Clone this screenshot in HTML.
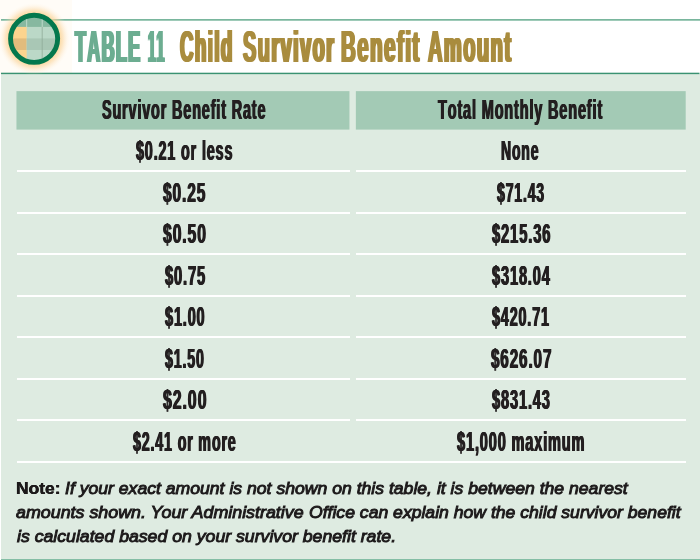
<!DOCTYPE html>
<html lang="en">
<head>
<meta charset="utf-8">
<title>Table 11 – Child Survivor Benefit Amount</title>
<style>
html,body{margin:0;padding:0}
body{width:700px;height:560px;position:relative;overflow:hidden;background:#fff;font-family:"Liberation Sans",sans-serif}
.abs{position:absolute}
.t{position:absolute;white-space:nowrap;font-weight:bold;line-height:1.117;transform-origin:0 0;font-family:"Liberation Sans",sans-serif}
.i{font-style:italic}
.cream{left:0;top:0;width:72px;height:74px;background:#FFFCF7}
.panel{left:1px;top:74px;width:698.5px;height:485px;background:#DEEBE1}
.endline{left:1px;top:559px;width:699px;height:1px;background:#84BEA5}
.sep{height:2px;background:#fff}
</style>
</head>
<body>
<div class="abs cream"></div>
<svg class="abs" style="left:0;top:0" width="700" height="80" viewBox="0 0 700 80"><rect x="1" y="19.1" width="699" height="1.55" fill="#6BAE93"/></svg>
<div class="abs panel"></div>
<svg class="abs" style="left:0;top:0" width="700" height="80" viewBox="0 0 700 80"><rect x="1" y="72.7" width="698.5" height="1.45" fill="#3A9272"/></svg>
<div class="abs endline"></div>
<svg class="abs" style="left:0;top:80px" width="700" height="60" viewBox="0 80 700 60"><rect x="16.45" y="91.15" width="333" height="38.45" fill="#A3CAB5"/><rect x="355.85" y="91.15" width="329.85" height="38.45" fill="#A3CAB5"/></svg>
<div class="abs sep" style="left:16.5px;width:333.1px;top:170px"></div><div class="abs sep" style="left:355.8px;width:329.9px;top:170px"></div>
<div class="abs sep" style="left:16.5px;width:333.1px;top:211.6px"></div><div class="abs sep" style="left:355.8px;width:329.9px;top:211.6px"></div>
<div class="abs sep" style="left:16.5px;width:333.1px;top:253.1px"></div><div class="abs sep" style="left:355.8px;width:329.9px;top:253.1px"></div>
<div class="abs sep" style="left:16.5px;width:333.1px;top:294.6px"></div><div class="abs sep" style="left:355.8px;width:329.9px;top:294.6px"></div>
<div class="abs sep" style="left:16.5px;width:333.1px;top:336.1px"></div><div class="abs sep" style="left:355.8px;width:329.9px;top:336.1px"></div>
<div class="abs sep" style="left:16.5px;width:333.1px;top:377.6px"></div><div class="abs sep" style="left:355.8px;width:329.9px;top:377.6px"></div>
<div class="abs sep" style="left:16.5px;width:333.1px;top:419.1px"></div><div class="abs sep" style="left:355.8px;width:329.9px;top:419.1px"></div>
<div class="abs sep" style="left:16.5px;width:669.2px;top:460.6px"></div>
<svg class="abs" style="left:0;top:0" width="80" height="80" viewBox="0 0 80 80">
<defs>
<radialGradient id="glow" cx="34.1" cy="38.8" r="36" gradientUnits="userSpaceOnUse">
<stop offset="0.70" stop-color="#FBD391" stop-opacity="0.85"/>
<stop offset="0.80" stop-color="#FBD59B" stop-opacity="0.55"/>
<stop offset="0.92" stop-color="#FDE3BD" stop-opacity="0.18"/>
<stop offset="1" stop-color="#FFF3E0" stop-opacity="0"/>
</radialGradient>
<clipPath id="inner"><circle cx="34.1" cy="38.8" r="22"/></clipPath>
</defs>
<circle cx="34.1" cy="38.8" r="36" fill="url(#glow)"/>
<g clip-path="url(#inner)">
<rect x="10" y="14" width="50" height="13" fill="#87B8A0"/>
<rect x="10" y="26.9" width="16.7" height="36" fill="#FBD48E"/>
<rect x="10" y="38.4" width="16.7" height="11.6" fill="#E1BC7C"/>
<rect x="26.7" y="26.9" width="34" height="36" fill="#BBD8C7"/>
<rect x="26.7" y="38.4" width="34" height="11.6" fill="#A9C7B5"/>
<rect x="26.4" y="14" width="0.7" height="13" fill="#D5E8DC"/>
<rect x="41.8" y="14" width="0.7" height="13" fill="#D5E8DC"/>
<rect x="41.75" y="26.9" width="0.8" height="36" fill="#8FAA99"/>
</g>
<circle cx="34.1" cy="38.8" r="23.55" fill="none" stroke="#04784D" stroke-width="4.9"/>
</svg>
<span class="t" style="left:74.52px;top:21.90px;font-size:44.20px;color:#6CAD91;transform:scaleX(0.4062);text-shadow:2.71px 0 0 currentColor,-2.71px 0 0 currentColor;letter-spacing:3.20px;font-kerning:none;">TABLE</span>
<span class="t" style="left:147.68px;top:21.90px;font-size:44.20px;color:#6CAD91;transform:scaleX(0.3089);text-shadow:3.56px 0 0 currentColor,-3.56px 0 0 currentColor;letter-spacing:3.20px;font-kerning:none;">11</span>
<span class="t" style="left:180.15px;top:21.90px;font-size:44.20px;color:#A98C3E;transform:scaleX(0.4250);text-shadow:2.59px 0 0 currentColor,-2.59px 0 0 currentColor;letter-spacing:3.20px;font-kerning:none;">Child</span>
<span class="t" style="left:242.70px;top:21.90px;font-size:44.20px;color:#A98C3E;transform:scaleX(0.4510);text-shadow:2.44px 0 0 currentColor,-2.44px 0 0 currentColor;letter-spacing:3.20px;font-kerning:none;">Survivor</span>
<span class="t" style="left:340.57px;top:21.90px;font-size:44.20px;color:#A98C3E;transform:scaleX(0.4633);text-shadow:2.37px 0 0 currentColor,-2.37px 0 0 currentColor;letter-spacing:3.20px;font-kerning:none;">Benefit</span>
<span class="t" style="left:428.30px;top:21.90px;font-size:44.20px;color:#A98C3E;transform:scaleX(0.4540);text-shadow:2.42px 0 0 currentColor,-2.42px 0 0 currentColor;letter-spacing:3.20px;font-kerning:none;">Amount</span>
<span class="t" style="left:102.41px;top:94.60px;font-size:27.40px;color:#231F20;transform:scaleX(0.5262);text-shadow:0.95px 0 0 currentColor,-0.95px 0 0 currentColor;letter-spacing:1.60px;font-kerning:none;">Survivor Benefit Rate</span>
<span class="t" style="left:438.06px;top:94.60px;font-size:27.40px;color:#231F20;transform:scaleX(0.5290);text-shadow:0.95px 0 0 currentColor,-0.95px 0 0 currentColor;letter-spacing:1.60px;font-kerning:none;">Total Monthly Benefit</span>
<span class="t" style="left:136.11px;top:136.00px;font-size:27.40px;color:#231F20;transform:scaleX(0.5248);text-shadow:0.95px 0 0 currentColor,-0.95px 0 0 currentColor;letter-spacing:1.60px;font-kerning:none;">$0.21 or less</span>
<span class="t" style="left:501.16px;top:136.00px;font-size:27.40px;color:#231F20;transform:scaleX(0.5110);text-shadow:0.98px 0 0 currentColor,-0.98px 0 0 currentColor;letter-spacing:1.60px;font-kerning:none;">None</span>
<span class="t" style="left:163.34px;top:177.50px;font-size:27.40px;color:#231F20;transform:scaleX(0.5664);text-shadow:0.88px 0 0 currentColor,-0.88px 0 0 currentColor;letter-spacing:1.60px;font-kerning:none;">$0.25</span>
<span class="t" style="left:497.11px;top:177.50px;font-size:27.40px;color:#231F20;transform:scaleX(0.5136);text-shadow:0.97px 0 0 currentColor,-0.97px 0 0 currentColor;letter-spacing:1.60px;font-kerning:none;">$71.43</span>
<span class="t" style="left:163.34px;top:219.00px;font-size:27.40px;color:#231F20;transform:scaleX(0.5733);text-shadow:0.87px 0 0 currentColor,-0.87px 0 0 currentColor;letter-spacing:1.60px;font-kerning:none;">$0.50</span>
<span class="t" style="left:491.60px;top:219.00px;font-size:27.40px;color:#231F20;transform:scaleX(0.5378);text-shadow:0.93px 0 0 currentColor,-0.93px 0 0 currentColor;letter-spacing:1.60px;font-kerning:none;">$215.36</span>
<span class="t" style="left:164.60px;top:260.50px;font-size:27.40px;color:#231F20;transform:scaleX(0.5373);text-shadow:0.93px 0 0 currentColor,-0.93px 0 0 currentColor;letter-spacing:1.60px;font-kerning:none;">$0.75</span>
<span class="t" style="left:491.60px;top:260.50px;font-size:27.40px;color:#231F20;transform:scaleX(0.5324);text-shadow:0.94px 0 0 currentColor,-0.94px 0 0 currentColor;letter-spacing:1.60px;font-kerning:none;">$318.04</span>
<span class="t" style="left:164.86px;top:302.00px;font-size:27.40px;color:#231F20;transform:scaleX(0.5292);text-shadow:0.94px 0 0 currentColor,-0.94px 0 0 currentColor;letter-spacing:1.60px;font-kerning:none;">$1.00</span>
<span class="t" style="left:492.36px;top:302.00px;font-size:27.40px;color:#231F20;transform:scaleX(0.5248);text-shadow:0.95px 0 0 currentColor,-0.95px 0 0 currentColor;letter-spacing:1.60px;font-kerning:none;">$420.71</span>
<span class="t" style="left:164.86px;top:343.50px;font-size:27.40px;color:#231F20;transform:scaleX(0.5190);text-shadow:0.96px 0 0 currentColor,-0.96px 0 0 currentColor;letter-spacing:1.60px;font-kerning:none;">$1.50</span>
<span class="t" style="left:490.85px;top:343.50px;font-size:27.40px;color:#231F20;transform:scaleX(0.5564);text-shadow:0.90px 0 0 currentColor,-0.90px 0 0 currentColor;letter-spacing:1.60px;font-kerning:none;">$626.07</span>
<span class="t" style="left:162.84px;top:385.00px;font-size:27.40px;color:#231F20;transform:scaleX(0.5800);text-shadow:0.86px 0 0 currentColor,-0.86px 0 0 currentColor;letter-spacing:1.60px;font-kerning:none;">$2.00</span>
<span class="t" style="left:491.60px;top:385.00px;font-size:27.40px;color:#231F20;transform:scaleX(0.5332);text-shadow:0.94px 0 0 currentColor,-0.94px 0 0 currentColor;letter-spacing:1.60px;font-kerning:none;">$831.43</span>
<span class="t" style="left:133.36px;top:426.50px;font-size:27.40px;color:#231F20;transform:scaleX(0.5206);text-shadow:0.96px 0 0 currentColor,-0.96px 0 0 currentColor;letter-spacing:1.60px;font-kerning:none;">$2.41 or more</span>
<span class="t" style="left:457.10px;top:426.50px;font-size:27.40px;color:#231F20;transform:scaleX(0.5310);text-shadow:0.94px 0 0 currentColor,-0.94px 0 0 currentColor;letter-spacing:1.60px;font-kerning:none;">$1,000 maximum</span>
<span class="t" style="left:16.15px;top:478.75px;font-size:17.40px;color:#1C191A;transform:scaleX(1.0024);text-shadow:0.30px 0 0 currentColor,-0.30px 0 0 currentColor;">Note:</span>
<span class="t i" style="left:64.97px;top:478.75px;font-size:17.40px;color:#1C191A;transform:scaleX(1.0124);-webkit-text-stroke:0.95px #1C191A;font-weight:normal;">If your exact amount is not shown on this table, it is between the nearest</span>
<span class="t i" style="left:16.39px;top:503.40px;font-size:17.40px;color:#1C191A;transform:scaleX(1.0260);-webkit-text-stroke:0.95px #1C191A;font-weight:normal;">amounts shown. Your Administrative</span>
<span class="t i" style="left:309.42px;top:503.40px;font-size:17.40px;color:#1C191A;transform:scaleX(1.0117);-webkit-text-stroke:0.95px #1C191A;font-weight:normal;">Office can explain how the child survivor benefit</span>
<span class="t i" style="left:16.57px;top:527.00px;font-size:17.40px;color:#1C191A;transform:scaleX(1.0159);-webkit-text-stroke:0.95px #1C191A;font-weight:normal;">is calculated based on your survivor benefit rate.</span>
</body>
</html>
